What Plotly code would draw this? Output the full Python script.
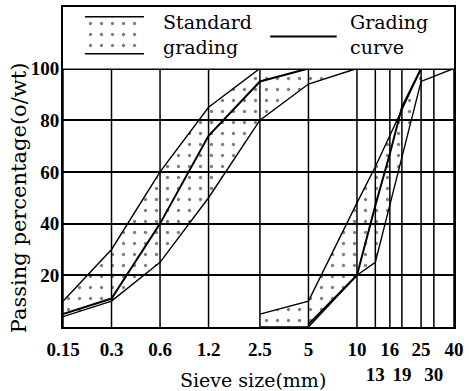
import math
import plotly.graph_objects as go

# ---- data ----
sieve_sizes = [0.15, 0.3, 0.6, 1.2, 2.5, 5, 10, 13, 16, 19, 25, 30, 40]
sieve_labels = ["0.15", "0.3", "0.6", "1.2", "2.5", "5", "10", "<br>13", "16",
                "<br>19", "25", "<br>30", "40"]
y_ticks = [20, 40, 60, 80, 100]

fine_sizes = [0.15, 0.3, 0.6, 1.2, 2.5, 5, 10]
fine_upper = [10, 30, 60, 85, 100, 100, 100]
fine_lower = [4, 10, 25, 50, 80, 94, 100]
fine_curve_sizes = [0.15, 0.3, 0.6, 1.2, 2.5, 5]
fine_curve = [5, 11, 40, 74, 95, 100]

coarse_sizes = [2.5, 5, 10, 13, 25, 40]
coarse_upper = [5, 10, 48, 62, 100, 100]
coarse_lower = [0, 0, 20, 25, 95, 100]
coarse_curve_sizes = [5, 10, 13, 16, 19, 25]
coarse_curve = [1, 20, 47, 67, 85, 100]

legend_band_label = "Standard<br>grading"
legend_curve_label = "Grading<br>curve"
x_title = "Sieve size(mm)"
y_title = "Passing percentage(o/wt)"

# ---- style ----
SERIF = "DejaVu Serif, Liberation Serif, serif"
TICKFONT = dict(family="Liberation Serif, serif", size=19, color="black", weight="bold")
dots = dict(shape=".", fgcolor="black", bgcolor="rgba(0,0,0,0)", size=11, solidity=0.07)

fig = go.Figure()

def band(xs, up, lo):
    return go.Scatter(
        x=list(xs) + list(xs)[::-1], y=list(up) + list(lo)[::-1],
        mode="lines", fill="toself", fillcolor="rgba(0,0,0,0)", fillpattern=dots,
        line=dict(color="black", width=1.4), hoverinfo="skip", showlegend=False)

fig.add_trace(band(fine_sizes, fine_upper, fine_lower))
fig.add_trace(band(coarse_sizes, coarse_upper, coarse_lower))
fig.add_trace(go.Scatter(x=fine_curve_sizes, y=fine_curve, mode="lines",
                         line=dict(color="black", width=2), showlegend=False))
fig.add_trace(go.Scatter(x=coarse_curve_sizes, y=coarse_curve, mode="lines",
                         line=dict(color="black", width=2), showlegend=False))

# vertical grid lines at every sieve size, stopping at 100 %
for s in sieve_sizes:
    fig.add_shape(type="line", xref="x", yref="y", x0=s, x1=s, y0=0, y1=max(y_ticks),
                  line=dict(color="black", width=1.5), layer="below")

# ---- legend (drawn in its own small axis box above 100 %) ----
fig.add_trace(go.Scatter(x=[0.056, 0.207, 0.207, 0.056, 0.056], y=[0.84, 0.84, 0.24, 0.24, 0.84],
                         mode="lines", fill="toself", fillcolor="rgba(0,0,0,0)", fillpattern=dots,
                         line=dict(color="rgba(0,0,0,0)", width=0), xaxis="x2", yaxis="y2",
                         hoverinfo="skip", showlegend=False))
for yy in (0.84, 0.24):
    fig.add_trace(go.Scatter(x=[0.056, 0.207], y=[yy, yy], mode="lines",
                             line=dict(color="black", width=1.5), xaxis="x2", yaxis="y2",
                             hoverinfo="skip", showlegend=False))
fig.add_trace(go.Scatter(x=[0.53, 0.70], y=[0.52, 0.52], mode="lines",
                         line=dict(color="black", width=2), xaxis="x2", yaxis="y2",
                         hoverinfo="skip", showlegend=False))

ymax = 123.8
fig.update_layout(
    width=469, height=391, autosize=False,
    margin=dict(l=63, r=10, t=5, b=64),
    paper_bgcolor="white", plot_bgcolor="white",
    xaxis=dict(type="log", range=[math.log10(sieve_sizes[0]), math.log10(sieve_sizes[-1])],
               tickvals=sieve_sizes, ticktext=sieve_labels, tickfont=TICKFONT, tickangle=0,
               showgrid=False, zeroline=False, showline=True, linecolor="black",
               linewidth=2, mirror=True, ticks="", ticklabelstandoff=4, fixedrange=True),
    yaxis=dict(range=[0, ymax], tickvals=y_ticks, ticktext=[str(v) for v in y_ticks],
               tickfont=TICKFONT, showgrid=True, gridcolor="black", gridwidth=1.5,
               zeroline=False, showline=True, linecolor="black", linewidth=2, mirror=True,
               ticks="", ticklabelstandoff=-2, fixedrange=True),
    xaxis2=dict(domain=[0, 1], range=[0, 1], anchor="y2", visible=False, fixedrange=True),
    yaxis2=dict(domain=[100 / ymax, 1], range=[0, 1], anchor="x2",
                visible=False, fixedrange=True),
    showlegend=False,
    annotations=[
        dict(text=y_title, textangle=-90, xref="paper", x=-0.114, xanchor="center",
             yref="y", y=50, yanchor="middle", showarrow=False,
             font=dict(family=SERIF, size=21, color="black")),
        dict(text=x_title, xref="paper", x=0.485, xanchor="center",
             yref="paper", y=-0.166, yanchor="middle", showarrow=False,
             font=dict(family=SERIF, size=19, color="black")),
        dict(text=legend_band_label, xref="paper", x=0.25, xanchor="left", align="left",
             yref="paper", y=0.913, yanchor="middle", showarrow=False,
             font=dict(family=SERIF, size=19, color="black")),
        dict(text=legend_curve_label, xref="paper", x=0.73, xanchor="left", align="left",
             yref="paper", y=0.913, yanchor="middle", showarrow=False,
             font=dict(family=SERIF, size=19, color="black")),
    ],
)

fig.write_html("out.html", config={"displayModeBar": False},
               post_script="document.body.style.margin='0px';")
